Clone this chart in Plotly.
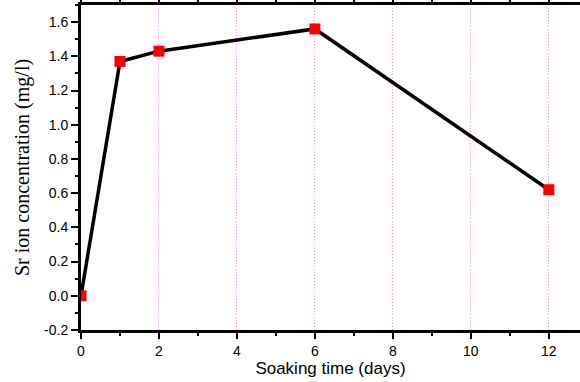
import plotly.graph_objects as go

days = [0, 1, 2, 6, 12]
sr_conc = [0.0, 1.37, 1.43, 1.56, 0.62]

x_ticks = [0, 2, 4, 6, 8, 10, 12]
y_ticks = [-0.2, 0.0, 0.2, 0.4, 0.6, 0.8, 1.0, 1.2, 1.4, 1.6]

fig = go.Figure()
fig.add_trace(go.Scatter(
    x=days, y=sr_conc, mode="lines+markers",
    line=dict(color="black", width=3.5),
    marker=dict(symbol="square", size=11, color="red"),
    showlegend=False,
))

fig.update_layout(
    width=580, height=382,
    margin=dict(l=81, r=0, t=5, b=52),
    paper_bgcolor="white", plot_bgcolor="white",
    font=dict(family="Liberation Sans, Arial", color="black"),
)
fig.update_xaxes(
    range=[0, 12.8], automargin=False,
    tickvals=x_ticks, ticktext=[str(v) for v in x_ticks],
    showline=True, linecolor="black", linewidth=3, mirror="ticks",
    ticks="outside", ticklen=6, tickwidth=2, tickcolor="black",
    minor=dict(dtick=1, tick0=0, ticks="outside", ticklen=3, tickwidth=2, tickcolor="black", showgrid=False),
    showgrid=True, gridcolor="#ee88ee", griddash="1px,2px", gridwidth=1,
    zeroline=False,
    tickfont=dict(size=14),
    title=dict(text="Soaking time (days)", font=dict(size=17), standoff=4),
)
fig.update_yaxes(
    range=[-0.2, 1.7], automargin=False,
    tickvals=y_ticks, ticktext=[f"{v:.1f}" for v in y_ticks],
    showline=True, linecolor="black", linewidth=3, mirror=False,
    ticks="outside", ticklen=7, tickwidth=2, tickcolor="black",
    minor=dict(dtick=0.1, tick0=0, ticks="outside", ticklen=3, tickwidth=2, tickcolor="black", showgrid=False),
    showgrid=False, zeroline=False,
    tickfont=dict(size=14),
    title=dict(text="Sr ion concentration (mg/l)", font=dict(size=20, family="Liberation Serif, Times New Roman"), standoff=10),
)

fig.write_html("out.html", config={"displayModeBar": False},
               post_script="document.body.style.margin='0';")
